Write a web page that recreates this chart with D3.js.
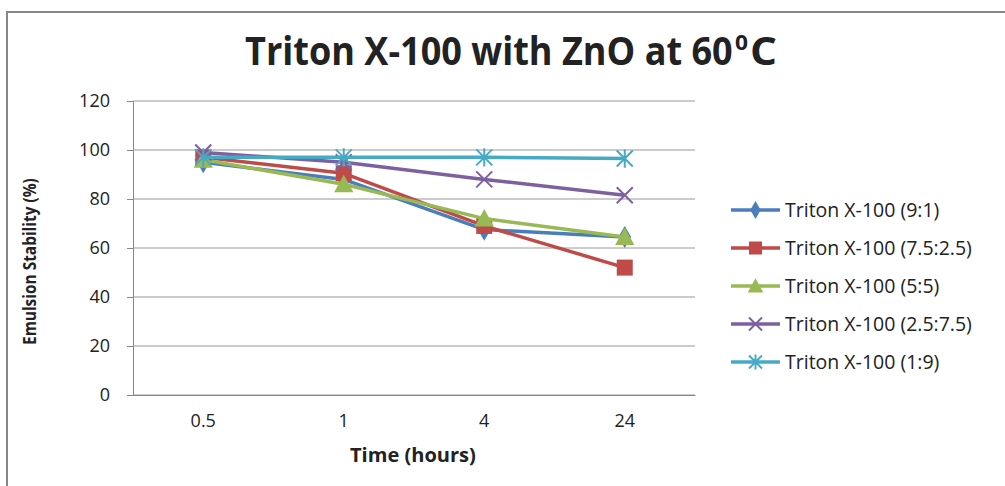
<!DOCTYPE html>
<html>
<head>
<meta charset="utf-8">
<script src="https://cdn.jsdelivr.net/npm/d3@7"></script>
<style>
  body { margin: 0; background: #fff; }
  svg text { font-family: "Open Sans", "Liberation Sans", sans-serif; fill: #222; }
</style>
</head>
<body>
<div class="chart"></div>
<script>
// --- Data ---
const times = ["0.5", "1", "4", "24"];
const seriesNames = [
  "Triton X-100 (9:1)",
  "Triton X-100 (7.5:2.5)",
  "Triton X-100 (5:5)",
  "Triton X-100 (2.5:7.5)",
  "Triton X-100 (1:9)"
];
const s91 = [95, 88, 67.5, 64.5];
const s7525 = [97, 90.5, 69, 52];
const s55 = [96, 86, 72, 64.5];
const s2575 = [99, 95, 88, 81.5];
const s19 = [97, 97, 97, 96.5];
const yTicks = [0, 20, 40, 60, 80, 100, 120];

const seriesValues = [s91, s7525, s55, s2575, s19];
const colors = ["#4A7EBB", "#BE4B48", "#98B954", "#7D60A0", "#46AAC5"];
const markers = ["diamond", "square", "triangle", "x", "star"];

// --- Layout ---
const width = 1005, height = 486;
const margin = { top: 101, right: 310, bottom: 91, left: 133 };

const svg = d3.select(".chart").append("svg")
  .attr("width", width)
  .attr("height", height);

// outer chart frame (only left/top edges fall inside the window)
svg.append("rect")
  .attr("x", 7).attr("y", 12)
  .attr("width", 1020).attr("height", 500)
  .attr("fill", "none")
  .attr("stroke", "#878787")
  .attr("stroke-width", 2);

const x = d3.scaleBand().domain(times).range([margin.left, width - margin.right]);
const y = d3.scaleLinear().domain([0, 120]).range([height - margin.bottom, margin.top]);

// gridlines
svg.append("g")
  .selectAll("line")
  .data(yTicks)
  .join("line")
  .attr("x1", margin.left).attr("x2", width - margin.right)
  .attr("y1", d => y(d)).attr("y2", d => y(d))
  .attr("stroke", "#999")
  .attr("stroke-width", 1);

// y axis
const yAxis = svg.append("g")
  .attr("transform", `translate(${margin.left},0)`)
  .call(d3.axisLeft(y).tickValues(yTicks).tickSize(6).tickPadding(17));
yAxis.select(".domain").attr("stroke", "#888");
yAxis.selectAll(".tick line").attr("stroke", "#888");
yAxis.selectAll(".tick text").attr("font-size", 18).attr("fill", "#222")
  .attr("font-family", "'Open Sans', sans-serif");

// x axis
const xAxis = svg.append("g")
  .attr("transform", `translate(0,${y(0)})`)
  .call(d3.axisBottom(x).tickSize(0).tickPadding(19));
xAxis.select(".domain").attr("stroke", "#888");
xAxis.selectAll(".tick text").attr("font-size", 18).attr("fill", "#222")
  .attr("font-family", "'Open Sans', sans-serif");

// --- Titles ---
// squeeze a bold text horizontally to a target width (the original font is narrower)
function squeezed(px, py, str, size, w, rotate) {
  const t = svg.append("text")
    .attr("font-size", size)
    .attr("font-weight", "bold")
    .text(str);
  const natural = t.node().getComputedTextLength();
  const k = w / natural;
  t.attr("transform", `translate(${px},${py})` + (rotate ? " rotate(-90)" : "") + ` scale(${k},1)`);
  return t;
}

squeezed(245, 65, "Triton X-100 with ZnO at 60", 40, 488);
squeezed(735, 50, "0", 22, 13);
squeezed(750, 65, "C", 40, 27);

squeezed(350, 462, "Time (hours)", 19, 126);
squeezed(36, 345, "Emulsion Stability (%)", 17, 167, true);

// --- Marker drawing ---
function drawMarker(g, type, color, cx, cy, s) {
  if (type === "diamond") {
    g.append("path").attr("d", d3.symbol(d3.symbolDiamond, s * s * 0.55)())
      .attr("transform", `translate(${cx},${cy})`).attr("fill", color);
  } else if (type === "square") {
    g.append("rect").attr("x", cx - s / 2).attr("y", cy - s / 2)
      .attr("width", s).attr("height", s).attr("fill", color);
  } else if (type === "triangle") {
    g.append("path")
      .attr("d", `M${cx},${cy - s * 0.6}L${cx + s * 0.6},${cy + s * 0.5}L${cx - s * 0.6},${cy + s * 0.5}Z`)
      .attr("fill", color);
  } else if (type === "x") {
    const h = s / 2;
    g.append("path")
      .attr("d", `M${cx - h},${cy - h}L${cx + h},${cy + h}M${cx - h},${cy + h}L${cx + h},${cy - h}`)
      .attr("stroke", color).attr("stroke-width", 2).attr("fill", "none");
  } else if (type === "star") {
    const h = s / 2;
    g.append("path")
      .attr("d", `M${cx - h},${cy - h}L${cx + h},${cy + h}M${cx - h},${cy + h}L${cx + h},${cy - h}M${cx},${cy - h * 1.15}L${cx},${cy + h * 1.15}`)
      .attr("stroke", color).attr("stroke-width", 2).attr("fill", "none");
  }
}

// --- Series ---
const line = d3.line()
  .x((d, i) => x(times[i]) + x.bandwidth() / 2)
  .y(d => y(d));

seriesValues.forEach((vals, k) => {
  const g = svg.append("g");
  g.append("path")
    .attr("d", line(vals))
    .attr("fill", "none")
    .attr("stroke", colors[k])
    .attr("stroke-width", 3.5)
    .attr("stroke-linejoin", "round");
  vals.forEach((v, i) => {
    drawMarker(g, markers[k], colors[k], x(times[i]) + x.bandwidth() / 2, y(v), 16);
  });
});

// --- Legend ---
const legend = svg.append("g");
seriesNames.forEach((name, k) => {
  const ly = 210 + k * 38;
  const g = legend.append("g");
  g.append("line")
    .attr("x1", 731).attr("x2", 780)
    .attr("y1", ly).attr("y2", ly)
    .attr("stroke", colors[k]).attr("stroke-width", 3.5);
  drawMarker(g, markers[k], colors[k], 755.5, ly, 13);
  g.append("text")
    .attr("x", 785).attr("y", ly + 7)
    .attr("font-size", 19.5)
    .text(name);
});
</script>
</body>
</html>
